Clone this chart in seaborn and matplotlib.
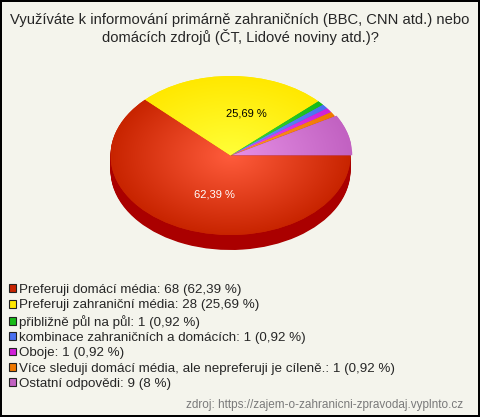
import numpy as np
import matplotlib
matplotlib.use('Agg')
import matplotlib.pyplot as plt
from matplotlib.colors import to_rgb
from matplotlib.patches import Patch
import seaborn as sns

# data
categories = ['Preferuji domácí média', 'Preferuji zahraniční média', 'přibližně půl na půl',
              'kombinace zahraničních a domácích', 'Oboje',
              'Více sleduji domácí média, ale nepreferuji je cíleně.', 'Ostatní odpovědi']
counts = [68, 28, 1, 1, 1, 1, 9]
pct_labels = ['62,39 %', '25,69 %', '0,92 %', '0,92 %', '0,92 %', '0,92 %', '8 %']
colors = ['#c82400', '#ffe800', '#18bb18', '#4a70f0', '#d020d8', '#f07800', '#c262c2']
light_colors = ['#ff5c3c', '#ffff38', '#40d840', '#7090ff', '#e850f0', '#ff9830', '#e690e6']
rim_colors = ['#aa0000', '#c8b000', '#108010', '#3050b0', '#9010a0', '#b05000', '#904090']

title = ('Využíváte k informování primárně zahraničních (BBC, CNN atd.) nebo\n'
         'domácích zdrojů (ČT, Lidové noviny atd.)?')
source = 'zdroj: https://zajem-o-zahranicni-zpravodaj.vyplnto.cz'

sns.set_style('white')
plt.rcParams['font.family'] = ['Liberation Sans', 'DejaVu Sans']

bg = '#f4f4ec'
W, H = 480, 417
fig = plt.figure(figsize=(W / 100, H / 100), dpi=100, facecolor=bg,
                 edgecolor='black', linewidth=1.5)

# pie geometry in pixels (tilted, so elliptical)
cx, cy, rx, ry, depth = 230.5, 155.5, 120, 79.5, 15
d = depth / ry
ax = fig.add_axes([(cx - rx) / W, (H - (cy + ry + depth)) / H, 2 * rx / W, (2 * ry + depth) / H])

# side of the tilted disc: stacked copies of the pie moved down
n_layers = 20
for k in range(n_layers, 0, -1):
    ax.pie(counts, colors=rim_colors, startangle=0, counterclock=False,
           center=(0, -d * k / n_layers), radius=1, wedgeprops=dict(linewidth=0))

explode = [0, 0, 0, 0, 0, 0, 0.015]
wedges, texts, autotexts = ax.pie(
    counts, colors=colors, startangle=0, counterclock=False, explode=explode,
    autopct=lambda p: (f'{p:.2f}'.replace('.', ',') + ' %') if p > 20 else '',
    pctdistance=0.53, wedgeprops=dict(linewidth=0), textprops=dict(fontsize=8))

# radial shading on the top surface
yy, xx = np.mgrid[-1:1:300j, -1:1:300j]
rr = np.clip(np.hypot(xx, yy), 0, 1)[..., None]
for w, base, light in zip(wedges, colors, light_colors):
    b = np.array(to_rgb(base))
    l = np.array(to_rgb(light))
    img = l * (1 - rr) + b * rr
    im = ax.imshow(img, extent=(-1, 1, -1, 1), origin='lower', zorder=1.5,
                   interpolation='bilinear')
    im.set_clip_path(w)

# label nudges (reference places them a little right of the mid-angle)
nudges = [0.067, 0.125]
for t, dx in zip(autotexts[:2], nudges):
    x, y = t.get_position()
    t.set_position((x + dx, y))
autotexts[0].set_color('white')
autotexts[1].set_color('black')
for t in autotexts:
    t.set_zorder(5)

ax.set_aspect('auto')
ax.set_xlim(-1, 1)
ax.set_ylim(-1 - d, 1)
ax.axis('off')

fig.text(0.5, 1 - 29 / H, title, ha='center', va='center', fontsize=10.6,
         linespacing=1.08)

handles = [Patch(facecolor=c, edgecolor='#222222', linewidth=0.8) for c in colors]
labels = [f'{c}: {n} ({p})' for c, n, p in zip(categories, counts, pct_labels)]
fig.legend(handles, labels, loc='upper left', bbox_to_anchor=(9 / W, 1 - 284 / H),
           frameon=False, fontsize=9.6, handlelength=0.53, handleheight=0.53,
           handletextpad=0.25, labelspacing=0.25, borderpad=0, borderaxespad=0)

fig.text(463 / W, 1 - 405 / H, source, ha='right', va='center', color='#7a7a7a',
         fontsize=8.5)

fig.savefig('out.png', dpi=100)
